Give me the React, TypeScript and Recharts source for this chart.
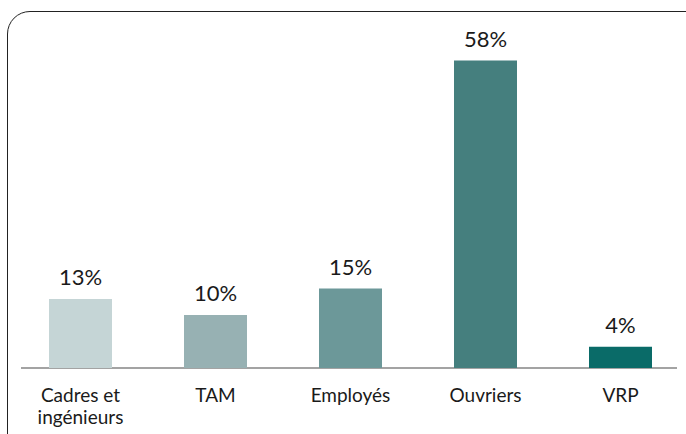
import { BarChart, Bar, XAxis, YAxis, Cell, LabelList, Text } from "recharts";

const categories = ["Cadres et ingénieurs", "TAM", "Employés", "Ouvriers", "VRP"];
const shares = [13, 10, 15, 58, 4];
const barColors = ["#c5d5d6", "#97b1b3", "#6c9899", "#457f7e", "#0a6b68"];

const FONT = "Lato, 'Open Sans', sans-serif";
const INK = "#1a1a1a";

const data = categories.map((name, i) => ({ name, value: shares[i] }));

function CategoryTick(props: any) {
  const { x, y, payload } = props;
  return (
    <Text
      x={x}
      y={y + 21}
      width={100}
      textAnchor="middle"
      verticalAnchor="start"
      lineHeight={22}
      fontSize={19}
      fontFamily={FONT}
      fill={INK}
    >
      {payload.value}
    </Text>
  );
}

export default function App() {
  return (
    <div
      style={{
        position: "absolute",
        left: 0,
        top: 0,
        width: 686,
        height: 434,
        overflow: "hidden",
        background: "#fff",
        fontFamily: FONT,
      }}
    >
      {/* frame, only top + left edge visible */}
      <div
        style={{
          position: "absolute",
          left: 7,
          top: 11,
          width: 720,
          height: 460,
          border: "1.5px solid #222",
          borderTopLeftRadius: 23,
          boxSizing: "border-box",
        }}
      />
      {/* baseline */}
      <div
        style={{
          position: "absolute",
          left: 21,
          top: 367,
          width: 656,
          height: 2,
          background: "#a3a3a3",
        }}
      />
      <div style={{ position: "absolute", left: 0, top: 0 }}>
        <BarChart
          width={688}
          height={434}
          data={data}
          margin={{ top: 50, right: 0, left: 13, bottom: 0 }}
        >
          <YAxis hide domain={[0, 60]} />
          <XAxis
            dataKey="name"
            height={66}
            axisLine={false}
            tickLine={false}
            tickSize={0}
            tickMargin={0}
            interval={0}
            tick={<CategoryTick />}
          />
          <Bar dataKey="value" barSize={63} isAnimationActive={false}>
            {data.map((_, i) => (
              <Cell key={i} fill={barColors[i]} />
            ))}
            <LabelList
              dataKey="value"
              position="top"
              offset={14}
              formatter={(v: any) => `${v}%`}
              fill={INK}
              fontSize={22}
              fontFamily={FONT}
            />
          </Bar>
        </BarChart>
      </div>
    </div>
  );
}
